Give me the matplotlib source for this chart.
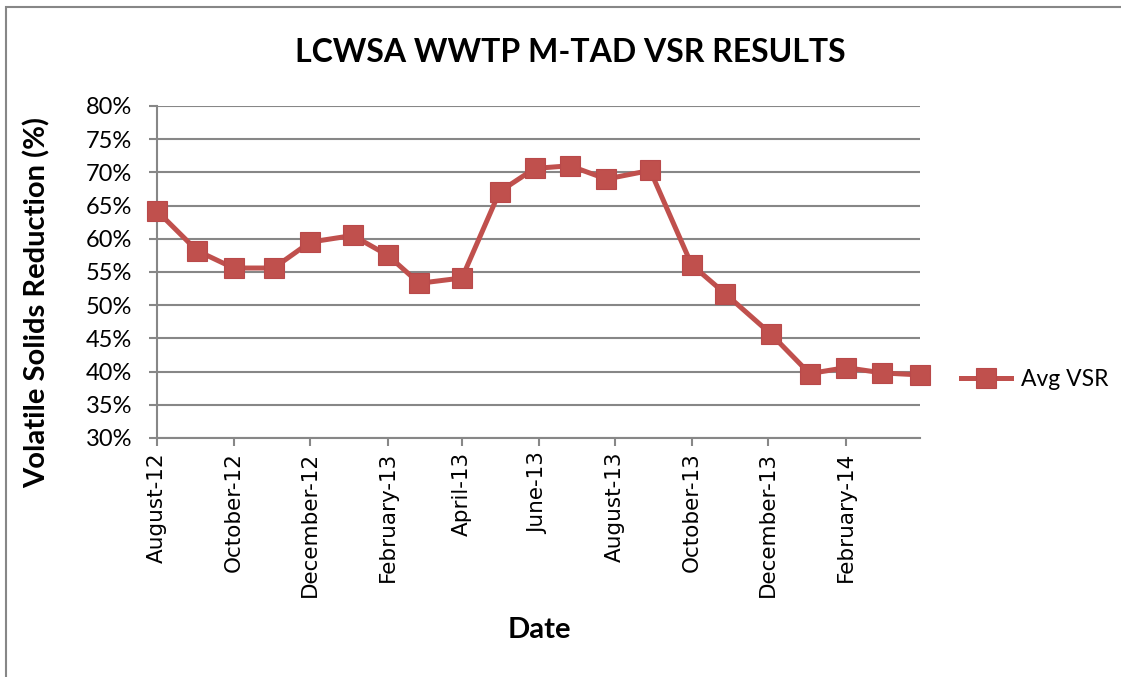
"""
LCWSA WWTP M-TAD VSR results - monthly average volatile solids reduction.
"""

import matplotlib
matplotlib.use('Agg')
import matplotlib.pyplot as plt
import matplotlib.dates as mdates
from matplotlib.patches import Rectangle
from matplotlib.ticker import FuncFormatter
import numpy as np

RED = '#C0504D'
GRID = '#878787'
FONT = 'Lato'

# sample dates and average VSR in %
dates = ['2012-08-01', '2012-09-02', '2012-10-01', '2012-11-02', '2012-12-01',
         '2013-01-04', '2013-02-01', '2013-02-26', '2013-04-01', '2013-05-01',
         '2013-05-29', '2013-06-26', '2013-07-25', '2013-08-29', '2013-10-01',
         '2013-10-28', '2013-12-03', '2014-01-03', '2014-02-01', '2014-03-02',
         '2014-04-01']
avg_vsr = [64.2, 58.2, 55.6, 55.6, 59.5, 60.5, 57.5, 53.3, 54.1, 67.1,
           70.6, 71.0, 69.0, 70.3, 56.1, 51.7, 45.7, 39.7, 40.6, 39.8, 39.5]

tick_dates = ['2012-08-01', '2012-10-01', '2012-12-01', '2013-02-01',
              '2013-04-01', '2013-06-01', '2013-08-01', '2013-10-01',
              '2013-12-01', '2014-02-01']
y_ticks = [30, 35, 40, 45, 50, 55, 60, 65, 70, 75, 80]

x = mdates.datestr2num(dates)
xt = mdates.datestr2num(tick_dates)

fig = plt.figure(figsize=(11.21, 6.77), dpi=100)
ax = fig.add_axes([157 / 1121, 1 - 438 / 677, (920 - 157) / 1121, (438 - 106) / 677])

# outer chart border (only top and left edges are visible in the crop)
fig.patches.append(Rectangle((6 / 1121, -0.1), 1.2, 1 - 7 / 677 + 0.1,
                             transform=fig.transFigure, fill=False,
                             edgecolor=GRID, lw=1.5, zorder=0))

ax.plot(x, avg_vsr, color=RED, lw=3.6, marker='s', markersize=14,
        markerfacecolor=RED, markeredgecolor='#B9494A', markeredgewidth=0.8,
        label='Avg VSR', zorder=5, clip_on=False)

ax.set_xlim(x[0], x[-1])
ax.set_ylim(30, 80)
ax.set_yticks(y_ticks)
ax.yaxis.set_major_formatter(FuncFormatter(lambda v, p: f'{v:.0f}%'))
ax.set_xticks(xt)
ax.set_xticklabels([mdates.num2date(t).strftime('%B-%y') for t in xt],
                   rotation=90, fontsize=15.5, family='DejaVu Sans')

for lab in ax.get_yticklabels():
    lab.set_family(FONT)
    lab.set_fontsize(17)

ax.grid(axis='y', color=GRID, lw=1.5)
ax.set_axisbelow(True)
ax.tick_params(axis='both', color=GRID, width=1.5, length=6, direction='out')
ax.tick_params(axis='y', pad=12)
ax.tick_params(axis='x', pad=4)
for s in ['top', 'right']:
    ax.spines[s].set_visible(False)
for s in ['left', 'bottom']:
    ax.spines[s].set_color(GRID)
    ax.spines[s].set_linewidth(1.5)

fig.text(37 / 1121, 1 - 302 / 677, 'Volatile Solids Reduction (%)', rotation=90,
         ha='center', va='center', fontsize=21, fontweight='bold', family=FONT)
fig.text(539 / 1121, 1 - 630 / 677, 'Date', ha='center', va='center',
         fontsize=21, fontweight='bold', family=FONT)

fig.text(570 / 1121, 1 - 52 / 677, 'LCWSA WWTP M-TAD VSR RESULTS', ha='center',
         va='center', fontsize=23, fontweight='bold', family=FONT)

ax.legend(loc='center left', bbox_to_anchor=(961 / 1121, 1 - 380 / 677),
          bbox_transform=fig.transFigure, frameon=False, borderpad=0,
          borderaxespad=0, handlelength=2.2, handletextpad=0.4,
          prop={'family': FONT, 'size': 16.5})

fig.savefig('out.png', dpi=100)
